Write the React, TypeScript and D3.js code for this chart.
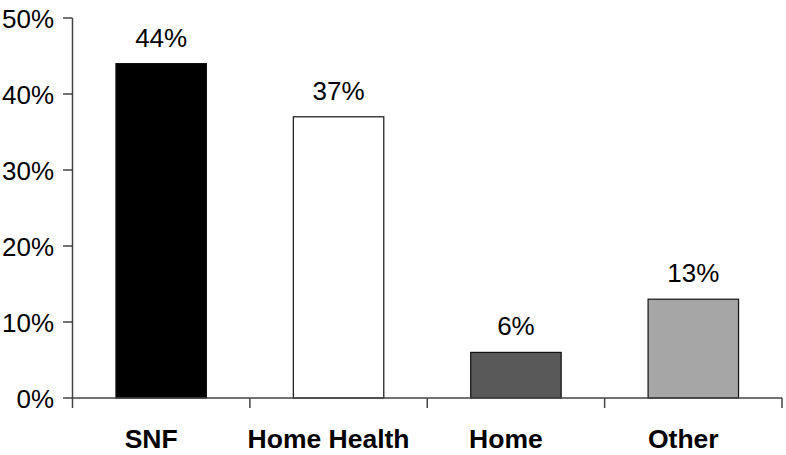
import React from "react";
import * as d3 from "d3";

const categories = ["SNF", "Home Health", "Home", "Other"];
const values = [44, 37, 6, 13];
const fills = ["#000000", "#ffffff", "#595959", "#a6a6a6"];
const yTicks = [0, 10, 20, 30, 40, 50];

const W = 786;
const H = 455;

export default function App() {
  const x = d3.scaleBand<string>().domain(categories).range([72.5, 782]).paddingInner(0.49).paddingOuter(0.245);
  const band = d3.scaleBand<string>().domain(categories).range([72.5, 782]).padding(0);
  const y = d3.scaleLinear().domain([0, 50]).range([398, 18]);
  const font = "'Liberation Sans', Arial, Helvetica, sans-serif";
  const axisColor = "#444";

  return (
    <svg width={W} height={H} style={{ position: "absolute", left: 0, top: 0, background: "#fff" }}>
      {categories.map((c, i) => (
        <rect
          key={c}
          x={x(c)!}
          y={y(values[i])}
          width={x.bandwidth()}
          height={y(0) - y(values[i])}
          fill={fills[i]}
          stroke="#111"
          strokeWidth={1.2}
        />
      ))}
      {categories.map((c, i) => (
        <text
          key={"v" + c}
          x={x(c)! + x.bandwidth() / 2}
          y={y(values[i]) - 17}
          textAnchor="middle"
          fontFamily={font}
          fontSize={26}
          fill="#000"
        >
          {values[i]}%
        </text>
      ))}
      <line x1={72.5} x2={72.5} y1={18} y2={398} stroke={axisColor} strokeWidth={1.5} />
      {yTicks.map((t) => (
        <g key={t}>
          <line x1={63} x2={72.5} y1={y(t)} y2={y(t)} stroke={axisColor} strokeWidth={1.5} />
          <text x={54} y={y(t) + 9.5} textAnchor="end" fontFamily={font} fontSize={26} fill="#000">
            {t}%
          </text>
        </g>
      ))}
      <line x1={72.5} x2={782} y1={398} y2={398} stroke={axisColor} strokeWidth={1.5} />
      {categories.map((c) => (
        <line
          key={"t" + c}
          x1={band(c)! + band.bandwidth()}
          x2={band(c)! + band.bandwidth()}
          y1={398}
          y2={408}
          stroke={axisColor}
          strokeWidth={1.5}
        />
      ))}
      <line x1={72.5} x2={72.5} y1={398} y2={408} stroke={axisColor} strokeWidth={1.5} />
      {categories.map((c) => (
        <text
          key={"c" + c}
          x={band(c)! + band.bandwidth() / 2 - 10}
          y={448}
          textAnchor="middle"
          fontFamily={font}
          fontSize={26.5}
          fontWeight="bold"
          fill="#000"
        >
          {c}
        </text>
      ))}
    </svg>
  );
}
